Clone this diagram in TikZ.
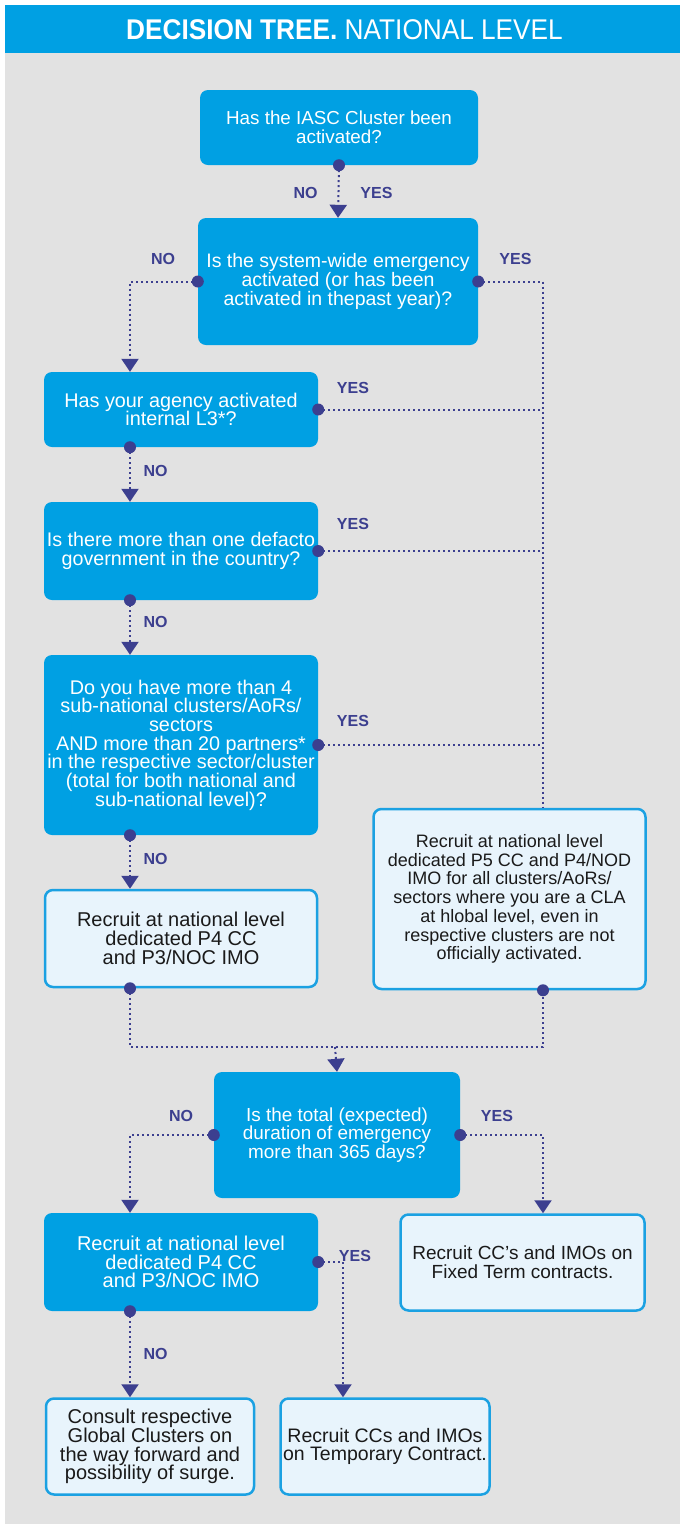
\documentclass[tikz,border=0pt]{standalone}
\usepackage{fontspec}
\setmainfont{Liberation Sans}
\newfontfamily\headfont{Liberation Sans}[FakeStretch=0.92]
\usetikzlibrary{arrows.meta,calc}

\definecolor{cyanbox}{HTML}{00A0E3}
\definecolor{cyanline}{HTML}{1BA1E2}
\definecolor{paleblue}{HTML}{E8F4FC}
\definecolor{panelgray}{HTML}{E2E2E2}
\definecolor{linecol}{HTML}{3C3F8F}
\definecolor{darktext}{HTML}{1A1A1A}

\begin{document}
\begin{tikzpicture}[x=1pt,y=-1pt,
  fs/.style={font=\fontsize{#1}{18.7}\selectfont},
  qbox/.style={rectangle, rounded corners=8pt, fill=cyanbox, text=white,
    align=center, inner sep=0pt, fs=19},
  abox/.style={rectangle, rounded corners=8pt, fill=paleblue, draw=cyanline,
    line width=2.5pt, text=darktext, align=center, inner sep=0pt, fs=19},
  conn/.style={draw=linecol, line width=2pt, dash pattern=on 2pt off 3pt},
  arrowin/.style={-{Triangle[width=17pt,length=13pt]}},
  lbl/.style={text=linecol, inner sep=0pt, font=\bfseries\fontsize{16}{16}\selectfont},
  dotr/.style={fill=linecol}
]
% canvas, panel and title band
\useasboundingbox (0,0) rectangle (680,1524);
\fill[white] (0,0) rectangle (680,1524);
\fill[panelgray] (5,53) rectangle (680,1524);
\fill[cyanbox] (5,5) rectangle (680,53);
\node[text=white, inner sep=0pt, font=\headfont\fontsize{28.5}{28.5}\selectfont] (title) at (344.5,30)
  {\textbf{DECISION TREE.} NATIONAL LEVEL};

% lanes for the vertical connectors
\coordinate (laneL) at (130,0);
\coordinate (laneM) at (343,0);
\coordinate (laneR) at (543,0);
\coordinate (mrg) at (335,1047);

% questions and outcomes
\node[qbox, fs=18.8, minimum width=278pt, minimum height=75pt] (q1) at (339,127.5)
  {Has the IASC Cluster been\\activated?};
\node[qbox, fs=19.5, minimum width=280pt, minimum height=127pt] (q2) at (338,281.5)
  {Is the system-wide emergency\\activated (or has been\\activated in thepast year)?};
\node[qbox, fs=19.8, minimum width=274pt, minimum height=75pt] (q3) at (181,409.5)
  {Has your agency activated\\internal L3*?};
\node[qbox, fs=19.7, minimum width=274pt, minimum height=98pt] (q4) at (181,551)
  {Is there more than one defacto\\government in the country?};
\node[qbox, fs=19.8, minimum width=274pt, minimum height=180pt] (q5) at (181,745)
  {Do you have more than 4\\sub-national clusters/AoRs/\\sectors\\AND more than 20 partners*\\in the respective sector/cluster\\(total for both national and\\sub-national level)?};
\node[abox, fs=20, minimum width=272pt, minimum height=97pt] (r1) at (181,938.5)
  {Recruit at national level\\dedicated P4 CC\\and P3/NOC IMO};
\node[abox, fs=18, minimum width=272pt, minimum height=180pt] (r2) at (509.5,899)
  {Recruit at national level\\dedicated P5 CC and P4/NOD\\IMO for all clusters/AoRs/\\sectors where you are a CLA\\at hlobal level, even in\\respective clusters are not\\officially activated.};
\node[qbox, fs=18.9, minimum width=246pt, minimum height=126pt] (q6) at (337,1135)
  {Is the total (expected)\\duration of emergency\\more than 365 days?};
\node[qbox, fs=20, minimum width=274pt, minimum height=98pt] (r3) at (181,1262)
  {Recruit at national level\\dedicated P4 CC\\and P3/NOC IMO};
\node[abox, fs=19, minimum width=244pt, minimum height=96pt] (r4) at (522.5,1262.5)
  {Recruit CC’s and IMOs on\\Fixed Term contracts.};
\node[abox, fs=20, minimum width=208pt, minimum height=96pt] (r5) at (150,1446.5)
  {Consult respective\\Global Clusters on\\the way forward and\\possibility of surge.};
\node[abox, fs=19.5, minimum width=209pt, minimum height=96pt] (r6) at (385,1446.5)
  {Recruit CCs and IMOs\\on Temporary Contract.};

% connectors
\draw[conn, arrowin] (q1.south) -- (q2.north);
\draw[conn, arrowin] (q2.west) -| (laneL |- q3.north);
\draw[conn] (q2.east) -| (laneR |- r2.north);
\draw[conn] (q3.east) -- (laneR |- q3.east);
\draw[conn] (q4.east) -- (laneR |- q4.east);
\draw[conn] (q5.east) -- (laneR |- q5.east);
\draw[conn, arrowin] (laneL |- q3.south) -- (laneL |- q4.north);
\draw[conn, arrowin] (laneL |- q4.south) -- (laneL |- q5.north);
\draw[conn, arrowin] (laneL |- q5.south) -- (laneL |- r1.north);
\draw[conn] (laneL |- r1.south) |- (mrg) -| (laneR |- r2.south);
\draw[conn, arrowin] (mrg) -- (q6.north);
\draw[conn, arrowin] (q6.west) -| (laneL |- r3.north);
\draw[conn, arrowin] (q6.east) -| (laneR |- r4.north);
\draw[conn, arrowin] (r3.east) -| (laneM |- r6.north);
\draw[conn, arrowin] (laneL |- r3.south) -- (laneL |- r5.north);

% start dots
\foreach \p in {(q1.south),(q2.west),(q2.east),(q3.east),(q4.east),(q5.east),
  (q6.west),(q6.east),(r3.east)}
  \fill[dotr] \p circle (6pt);
\foreach \n in {q3,q4,q5,r1,r3}
  \fill[dotr] (laneL |- \n.south) circle (6pt);
\fill[dotr] (laneR |- r2.south) circle (6pt);

% branch labels
\node[lbl] (l1n) at (305.5,193) {NO};
\node[lbl] (l1y) at (376.5,193) {YES};
\node[lbl] (l2n) at (163,259) {NO};
\node[lbl] (l2y) at (515.5,259) {YES};
\node[lbl] (l3y) at (353,388) {YES};
\node[lbl] (l3n) at (155.5,471) {NO};
\node[lbl] (l4y) at (353,524) {YES};
\node[lbl] (l4n) at (155.5,622) {NO};
\node[lbl] (l5y) at (353,721) {YES};
\node[lbl] (l5n) at (155.5,859) {NO};
\node[lbl] (l6n) at (181,1116) {NO};
\node[lbl] (l6y) at (497,1116) {YES};
\node[lbl] (l7y) at (355,1256) {YES};
\node[lbl] (l7n) at (155.5,1354) {NO};
\end{tikzpicture}
\end{document}
